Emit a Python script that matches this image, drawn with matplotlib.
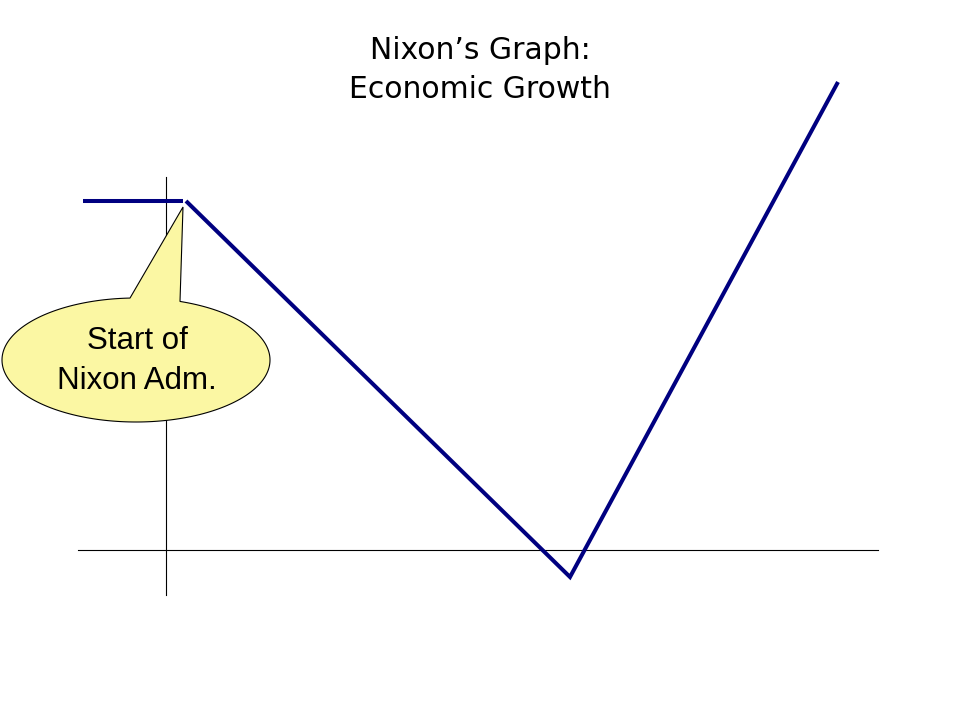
import numpy as np
import matplotlib
matplotlib.use("Agg")
import matplotlib.pyplot as plt
from matplotlib.patches import Polygon

# Data (time units vs growth units; axes cross at 0)
pre_x = [-0.83, 0.17]
pre_y = [3.49, 3.49]
growth_x = [0.20, 4.04, 6.72]
growth_y = [3.49, -0.27, 4.68]
title_lines = ["Nixon\u2019s Graph:", "Economic Growth"]
callout_text = "Start of\nNixon Adm."

fig = plt.figure(figsize=(9.6, 7.2), dpi=100)
ax = fig.add_axes([0, 0, 1, 1])
ax.set_xlim(-1.66, 7.94)
ax.set_ylim(-1.70, 5.50)
ax.axis("off")

# axes lines
ax.plot([-0.88, 7.12], [0, 0], color="black", lw=0.8)
ax.plot([0, 0], [-0.45, 3.73], color="black", lw=0.8)

navy = "#000080"
ax.plot(pre_x, pre_y, color=navy, lw=2.9, solid_capstyle="butt")
ax.plot(growth_x, growth_y, color=navy, lw=2.9, solid_joinstyle="miter", solid_capstyle="butt")

# callout bubble
cx, cy, a, b = -0.30, 1.90, 1.34, 0.62
xl, xr = -0.36, 0.14
tip = (0.17, 3.43)
tl = np.arccos((xl - cx) / a)
tr = np.arccos((xr - cx) / a)
ts = np.linspace(tl, tr + 2 * np.pi, 300)
pts = np.column_stack([cx + a * np.cos(ts), cy + b * np.sin(ts)])
pts = np.vstack([pts, [tip]])
ax.add_patch(Polygon(pts, closed=True, facecolor="#FBF7A3", edgecolor="black", lw=0.8, zorder=5))
ax.text(cx + 0.01, cy - 0.01, callout_text, ha="center", va="center",
        fontsize=22.5, family="Liberation Sans", linespacing=1.42, zorder=6)

fig.text(0.5, 1 - 70 / 720, "\n".join(title_lines), ha="center", va="center",
         fontsize=21.5, family="DejaVu Sans", linespacing=1.42)

fig.savefig("out.png", dpi=100, facecolor="white")
